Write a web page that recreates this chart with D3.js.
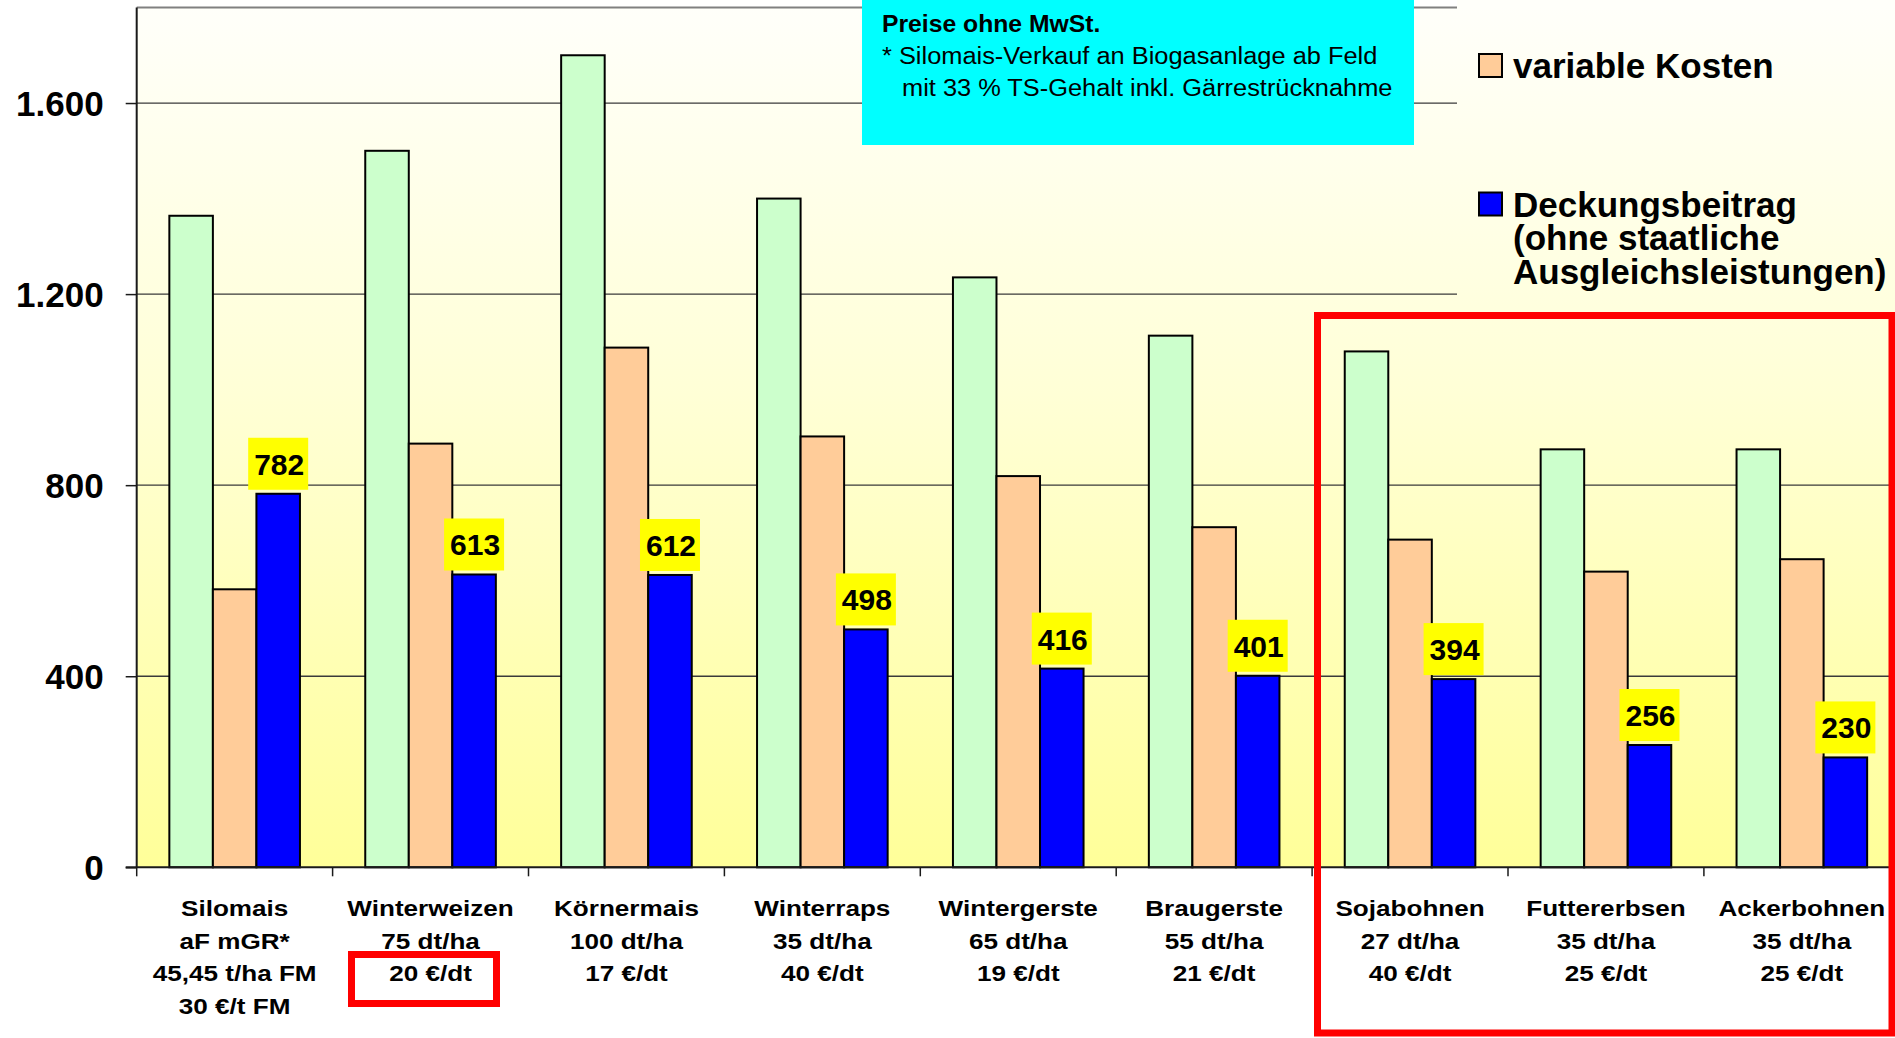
<!DOCTYPE html>
<html lang="de">
<head>
<meta charset="utf-8">
<title>Leistung, variable Kosten und Deckungsbeitrag</title>
<script src="https://cdn.jsdelivr.net/npm/d3@7"></script>
<style>
  html, body { margin: 0; padding: 0; background: #ffffff; }
  svg { display: block; font-family: "Liberation Sans", Arial, Helvetica, sans-serif; }
</style>
</head>
<body>
<svg id="chart" width="1895" height="1038"></svg>
<script>
// Kulturen und Beschriftungszeilen unter der x-Achse
const categories = ["Silomais", "Winterweizen", "Körnermais", "Winterraps", "Wintergerste",
                    "Braugerste", "Sojabohnen", "Futtererbsen", "Ackerbohnen"];
const categoryLines = [
  ["Silomais", "aF mGR*", "45,45 t/ha FM", "30 €/t FM"],
  ["Winterweizen", "75 dt/ha", "20 €/dt"],
  ["Körnermais", "100 dt/ha", "17 €/dt"],
  ["Winterraps", "35 dt/ha", "40 €/dt"],
  ["Wintergerste", "65 dt/ha", "19 €/dt"],
  ["Braugerste", "55 dt/ha", "21 €/dt"],
  ["Sojabohnen", "27 dt/ha", "40 €/dt"],
  ["Futtererbsen", "35 dt/ha", "25 €/dt"],
  ["Ackerbohnen", "35 dt/ha", "25 €/dt"]
];

// Werte in €/ha
const leistung        = [1364, 1500, 1700, 1400, 1235, 1113, 1080, 875, 875];
const variableKosten  = [582, 887, 1088, 902, 819, 712, 686, 619, 645];
const deckungsbeitrag = [782, 613, 612, 498, 416, 401, 394, 256, 230];

const yTicks = [0, 400, 800, 1200, 1600];
const yMax = 1800;

const seriesKeys = ["leistung", "kosten", "db"];
const seriesColors = { leistung: "#CCFFCC", kosten: "#FFCC99", db: "#0000FF" };

const legendItems = [
  { key: "kosten", lines: ["variable Kosten"] },
  { key: "db", lines: ["Deckungsbeitrag", "(ohne staatliche", "Ausgleichsleistungen)"] }
];

const noteTitle = "Preise ohne MwSt.";
const noteLines = ["* Silomais-Verkauf an Biogasanlage ab Feld", "mit 33 % TS-Gehalt inkl. Gärrestrücknahme"];

const rows = categories.map((c, i) => ({
  cat: c,
  leistung: leistung[i],
  kosten: variableKosten[i],
  db: deckungsbeitrag[i]
}));

// Layout
const plotLeft = 136.7, plotTop = 7.5, plotBottom = 867.3, step = 195.9;
const plotRight = plotLeft + step * categories.length;

const svg = d3.select("#chart");
const deLocale = d3.formatLocale({ decimal: ",", thousands: ".", grouping: [3], currency: ["", " €"] });
const fmt = deLocale.format(",d");

const x = d3.scaleBand().domain(categories).range([plotLeft, plotRight]).paddingInner(0).paddingOuter(0);
const xs = d3.scaleBand().domain(seriesKeys).range([0, x.bandwidth()]).paddingInner(0).paddingOuter(0.75);
const y = d3.scaleLinear().domain([0, yMax]).range([plotBottom, plotTop]);

// Hintergrundverlauf der Zeichenfläche
const defs = svg.append("defs");
const grad = defs.append("linearGradient")
  .attr("id", "plotBg").attr("gradientUnits", "userSpaceOnUse")
  .attr("x1", 0).attr("x2", 0).attr("y1", plotTop).attr("y2", plotBottom);
grad.append("stop").attr("offset", "0%").attr("stop-color", "#FFFFFA");
grad.append("stop").attr("offset", "45%").attr("stop-color", "#FFFFD6");
grad.append("stop").attr("offset", "100%").attr("stop-color", "#FFFF99");

svg.append("rect")
  .attr("x", plotLeft).attr("y", plotTop)
  .attr("width", plotRight - plotLeft).attr("height", plotBottom - plotTop)
  .attr("fill", "url(#plotBg)");

// Rahmenlinie oben
svg.append("line")
  .attr("x1", plotLeft).attr("x2", plotRight)
  .attr("y1", plotTop).attr("y2", plotTop)
  .attr("stroke", "#808080").attr("stroke-width", 2);

// Gitternetzlinien
svg.append("g").selectAll("line")
  .data(yTicks.filter(t => t > 0))
  .join("line")
  .attr("x1", plotLeft).attr("x2", plotRight)
  .attr("y1", d => y(d)).attr("y2", d => y(d))
  .attr("stroke", "#3a3a3a").attr("stroke-width", 1.3);

// Balken
const groups = svg.append("g").selectAll("g")
  .data(rows)
  .join("g")
  .attr("transform", d => `translate(${x(d.cat)},0)`);

groups.selectAll("rect")
  .data(d => seriesKeys.map(k => ({ key: k, value: d[k] })))
  .join("rect")
  .attr("x", d => xs(d.key))
  .attr("y", d => y(d.value))
  .attr("width", xs.bandwidth())
  .attr("height", d => y(0) - y(d.value))
  .attr("fill", d => seriesColors[d.key])
  .attr("stroke", "#000")
  .attr("stroke-width", 2);

// Wertbeschriftungen Deckungsbeitrag
const lblW = 60, lblH = 52;
const labels = svg.append("g").selectAll("g")
  .data(rows)
  .join("g")
  .attr("transform", d => `translate(${x(d.cat) + xs("db") + xs.bandwidth() / 2},${y(d.db) - 4 - lblH})`);
labels.append("rect")
  .attr("x", -lblW / 2).attr("y", 0)
  .attr("width", lblW).attr("height", lblH)
  .attr("fill", "#FFFF00");
labels.append("text")
  .attr("x", 1).attr("y", lblH / 2 + 11)
  .attr("text-anchor", "middle")
  .attr("font-size", 30).attr("font-weight", "bold")
  .attr("fill", "#000")
  .text(d => fmt(d.db));

// y-Achse
const yAxis = d3.axisLeft(y).tickValues(yTicks).tickFormat(fmt).tickSize(11).tickPadding(22);
const yg = svg.append("g").attr("transform", `translate(${plotLeft},0)`).call(yAxis);
yg.select(".domain").attr("stroke", "#1a1a1a").attr("stroke-width", 2)
  .attr("d", `M0,${plotTop}V${plotBottom}`);
yg.selectAll(".tick line").attr("stroke", "#1a1a1a").attr("stroke-width", 1.5);
yg.selectAll(".tick text")
  .attr("font-family", "'Liberation Sans', Arial, sans-serif")
  .attr("font-size", 35).attr("font-weight", "bold").attr("fill", "#000")
  .attr("dy", "0.36em");

// x-Achse mit Trennstrichen zwischen den Kulturen
svg.append("line")
  .attr("x1", plotLeft - 11).attr("x2", plotRight)
  .attr("y1", plotBottom).attr("y2", plotBottom)
  .attr("stroke", "#1a1a1a").attr("stroke-width", 2);
svg.append("g").selectAll("line")
  .data(categories)
  .join("line")
  .attr("x1", d => x(d)).attr("x2", d => x(d))
  .attr("y1", plotBottom).attr("y2", plotBottom + 9)
  .attr("stroke", "#1a1a1a").attr("stroke-width", 1.5);

// Kategoriebeschriftung (mehrzeilig)
const catG = svg.append("g").selectAll("g")
  .data(rows.map((r, i) => ({ cat: r.cat, lines: categoryLines[i] })))
  .join("g")
  .attr("transform", d => `translate(${x(d.cat) + x.bandwidth() / 2},0)`);
catG.selectAll("text")
  .data(d => d.lines)
  .join("text")
  .attr("transform", (d, i) => `translate(0,${916 + i * 32.5}) scale(1.16,1)`)
  .attr("text-anchor", "middle")
  .attr("font-size", 22.5).attr("font-weight", "bold").attr("fill", "#000")
  .text(d => d);

// Legende
const legend = svg.append("g");
legend.append("rect")
  .attr("x", 1457).attr("y", 0).attr("width", 1895 - 1457).attr("height", 300)
  .attr("fill", "url(#plotBg)");
const legendTop = [53, 191.5];
legendItems.forEach((item, i) => {
  const g = legend.append("g").attr("transform", `translate(1478,${legendTop[i]})`);
  g.append("rect")
    .attr("x", 1).attr("y", 1).attr("width", 23).attr("height", 23)
    .attr("fill", seriesColors[item.key]).attr("stroke", "#000").attr("stroke-width", 2);
  g.selectAll("text")
    .data(item.lines)
    .join("text")
    .attr("x", 35).attr("y", (d, j) => 25 + j * 33.7)
    .attr("font-size", 35).attr("font-weight", "bold").attr("fill", "#000")
    .text(d => d);
});

// Hinweisfeld
const note = svg.append("g");
note.append("rect")
  .attr("x", 862).attr("y", 0).attr("width", 552).attr("height", 145)
  .attr("fill", "#00FFFF");
note.append("text")
  .attr("transform", "translate(882,32.3) scale(1.03,1)")
  .attr("font-size", 24).attr("font-weight", "bold").attr("fill", "#000")
  .text(noteTitle);
noteLines.forEach((t, i) => {
  note.append("text")
    .attr("transform", `translate(${i === 0 ? 882 : 902},${63.5 + i * 32.2}) scale(1.09,1)`)
    .attr("font-size", 23.3).attr("fill", "#000")
    .text(t);
});

// Hervorhebungen
const marks = svg.append("g").attr("fill", "none").attr("stroke", "#FF0000").attr("stroke-width", 7);
marks.append("rect")
  .attr("x", 351.5).attr("y", 954.5).attr("width", 145).attr("height", 49);
marks.append("rect")
  .attr("x", 1317.5).attr("y", 315.5).attr("width", 574.5).attr("height", 717.5);
</script>
</body>
</html>
